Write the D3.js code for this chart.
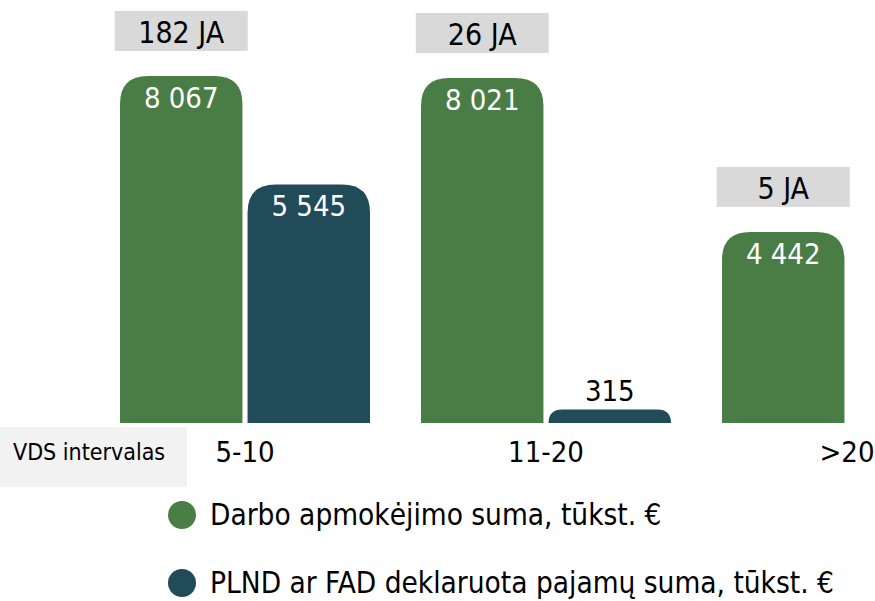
<!DOCTYPE html>
<html lang="lt">
<head>
    <meta charset="UTF-8">
    <title>VDS intervalai</title>
    <script src="https://d3js.org/d3.v7.min.js"></script>
    <style>
        body { margin: 0; background: #fff; }
        svg { display: block; font-family: "DejaVu Sans Condensed", "DejaVu Sans", sans-serif; }
    </style>
</head>
<body>
    <svg width="875" height="601"></svg>
    <script>
        // data
        const categories = ["5-10", "11-20", ">20"];
        const seriesNames = [
            "Darbo apmokėjimo suma, tūkst. €",
            "PLND ar FAD deklaruota pajamų suma, tūkst. €"
        ];
        const wageSums = [8067, 8021, 4442];
        const declaredSums = [5545, 315, null];
        const jaCounts = ["182 JA", "26 JA", "5 JA"];
        const axisTitle = "VDS intervalas";

        const colors = ["#4a7d45", "#224b5a"];
        const fmt = v => d3.format(",")(v).replace(/,/g, " ");

        const svg = d3.select("svg");
        const baseY = 423;

        const x0 = d3.scaleBand()
            .domain(categories)
            .range([120, 972])
            .paddingInner(51 / 301)
            .paddingOuter(0);

        const x1 = d3.scaleBand()
            .domain([0, 1])
            .range([0, x0.bandwidth()])
            .paddingInner(0.04);

        const y = d3.scaleLinear()
            .domain([0, 9000])
            .range([baseY, baseY - 9000 * 347 / 8067]);

        const bars = [];
        categories.forEach((c, i) => {
            [wageSums[i], declaredSums[i]].forEach((v, s) => {
                if (v != null) bars.push({ cat: c, s: s, v: v });
            });
        });

        // bar with rounded top corners
        function barPath(d) {
            const x = x0(d.cat) + x1(d.s);
            const w = x1.bandwidth();
            const top = y(d.v);
            const h = baseY - top;
            const r = Math.min(28, h, w / 2);
            return `M${x},${baseY} L${x},${top + r} Q${x},${top} ${x + r},${top} ` +
                `L${x + w - r},${top} Q${x + w},${top} ${x + w},${top + r} L${x + w},${baseY} Z`;
        }

        svg.selectAll(".bar")
            .data(bars)
            .enter().append("path")
            .attr("class", "bar")
            .attr("d", barPath)
            .attr("fill", d => colors[d.s]);

        svg.selectAll(".val")
            .data(bars)
            .enter().append("text")
            .attr("class", "val")
            .attr("x", d => x0(d.cat) + x1(d.s) + x1.bandwidth() / 2)
            .attr("y", d => (baseY - y(d.v) > 60) ? y(d.v) + 32 : y(d.v) - 8)
            .attr("text-anchor", "middle")
            .attr("font-size", 29)
            .attr("fill", d => (baseY - y(d.v) > 60) ? "#fff" : "#000")
            .text(d => fmt(d.v));

        // JA boxes above the green bars
        const boxW = 133, boxH = 40;
        const ja = svg.selectAll(".ja")
            .data(categories)
            .enter().append("g")
            .attr("class", "ja")
            .attr("transform", (c, i) => {
                const cx = x0(c) + x1(0) + x1.bandwidth() / 2;
                return `translate(${cx},${y(wageSums[i]) - 25 - boxH})`;
            });
        ja.append("rect")
            .attr("x", -boxW / 2)
            .attr("width", boxW)
            .attr("height", boxH)
            .attr("fill", "#d9d9d9");
        ja.append("text")
            .attr("y", 32)
            .attr("text-anchor", "middle")
            .attr("font-size", 30)
            .attr("fill", "#000")
            .text((c, i) => jaCounts[i]);

        // category axis
        svg.append("rect")
            .attr("x", 0).attr("y", 427)
            .attr("width", 187).attr("height", 60)
            .attr("fill", "#f2f2f2");
        svg.append("text")
            .attr("x", 13).attr("y", 460)
            .attr("font-size", 23)
            .attr("fill", "#000")
            .text(axisTitle);

        svg.selectAll(".cat")
            .data(categories)
            .enter().append("text")
            .attr("class", "cat")
            .attr("x", c => x0(c) + x0.bandwidth() / 2)
            .attr("y", 462)
            .attr("text-anchor", "middle")
            .attr("font-size", 29)
            .attr("fill", "#000")
            .text(c => c);

        // legend
        const legend = svg.selectAll(".legend")
            .data(seriesNames)
            .enter().append("g")
            .attr("class", "legend")
            .attr("transform", (d, i) => `translate(182,${515 + i * 68})`);
        legend.append("circle")
            .attr("r", 14)
            .attr("fill", (d, i) => colors[i]);
        legend.append("text")
            .attr("x", 28)
            .attr("y", 10)
            .attr("font-size", 29.5)
            .attr("fill", "#000")
            .text(d => d);
    </script>
</body>
</html>
